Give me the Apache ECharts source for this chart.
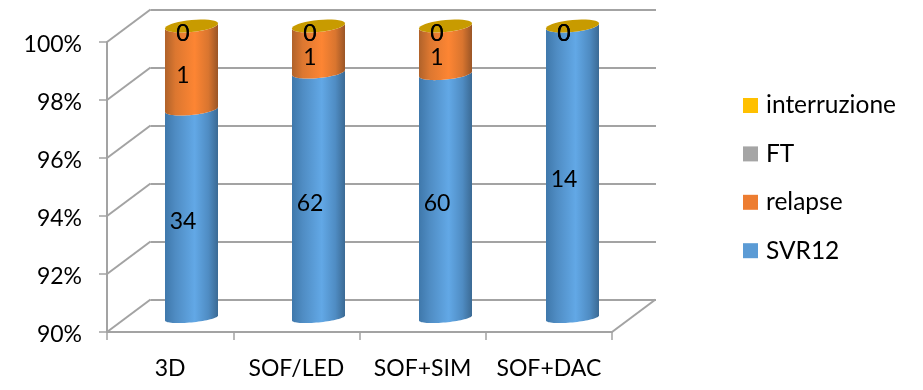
<!DOCTYPE html>
<html>
<head>
<meta charset="utf-8">
<style>
html, body { margin: 0; padding: 0; background: #fff; }
#chart { width: 923px; height: 390px; }
</style>
<script src="https://cdn.jsdelivr.net/npm/echarts@6/dist/echarts.min.js"></script>
</head>
<body>
<div id="chart"></div>
<script>
// Patient counts per regimen
const categories = ['3D', 'SOF/LED', 'SOF+SIM', 'SOF+DAC'];
const svr12 = [34, 62, 60, 14];
const relapse = [1, 1, 1, 0];
const ft = [0, 0, 0, 0];
const interruzione = [0, 0, 0, 0];

const yMin = 90;
const yMax = 100;
const yStep = 2;

const FONT = 'Lato';
const WALL = '#a3a3a3';

// Depth of the box: how far the back wall sits from the front plane
const DEPTH_X = 43.5;
const DEPTH_Y = -32.5;

// Shades run across a cylinder: left edge, left shoulder, highlight, right shoulder, right edge
const stackSeries = [
  { name: 'SVR12', values: svr12, color: '#5B9BD5', shade: ['#3f78ab', '#4f8cc3', '#62a8e6', '#4f8cc3', '#3b6a94'] },
  { name: 'relapse', values: relapse, color: '#ED7D31', shade: ['#b0622a', '#dc7730', '#fd8533', '#d9752f', '#9a5526'] },
  { name: 'FT', values: ft, color: '#A5A5A5', shade: ['#777', '#919191', '#aaa', '#919191', '#666'] },
  { name: 'interruzione', values: interruzione, color: '#FFC000', shade: ['#b88c00', '#dca600', '#ffc000', '#dca600', '#a07a00'], cap: '#c89b00' }
];
const shadeStops = [0, 0.2, 0.56, 0.82, 1];

// Each category is stacked to 100 %
const totals = categories.map((_, i) => stackSeries.reduce((s, d) => s + d.values[i], 0));

function segmentData(seriesIndex) {
  return categories.map((_, i) => {
    let before = 0;
    for (let k = 0; k < seriesIndex; k++) before += stackSeries[k].values[i];
    const val = stackSeries[seriesIndex].values[i];
    return [i, before / totals[i] * 100, (before + val) / totals[i] * 100, val];
  });
}

// Half-ellipse of a cylinder slice; the slight shear gives the tilted rim of the 3D view
const RADIUS = 26.5;
const SHEAR = 2.5;
function flatness(pct) {
  return 4.4 + 1.6 * (pct - yMin) / (yMax - yMin);
}
function rim(cx, cy, b, from, to) {
  const pts = [];
  const n = 36;
  for (let j = 0; j <= n; j++) {
    const t = from + (to - from) * j / n;
    pts.push([cx + RADIUS * Math.cos(t), cy - SHEAR * Math.cos(t) + b * Math.sin(t)]);
  }
  return pts;
}

function cylinderRenderer(def) {
  return function (params, api) {
    const cat = api.value(0);
    const low = Math.max(api.value(1), yMin);
    const high = api.value(2);
    const count = api.value(3);
    const pLow = api.coord([cat, low]);
    const pHigh = api.coord([cat, high]);
    const children = [];
    if (high > low) {
      // front face: bottom arc left to right, then top arc back right to left
      const bottom = rim(pLow[0], pLow[1], flatness(low), Math.PI, 0);
      const top = rim(pHigh[0], pHigh[1], flatness(high), 0, Math.PI);
      children.push({
        type: 'polygon',
        shape: { points: bottom.concat(top) },
        style: {
          fill: new echarts.graphic.LinearGradient(0, 0, 1, 0,
            shadeStops.map((offset, k) => ({ offset, color: def.shade[k] })))
        }
      });
    }
    if (def.cap) {
      children.push({
        type: 'polygon',
        shape: { points: rim(pHigh[0], pHigh[1], flatness(high), 0, Math.PI * 2) },
        style: { fill: def.cap }
      });
    }
    children.push({
      type: 'text',
      z2: 100,
      style: {
        x: pLow[0] - 8.5,
        y: (pLow[1] + pHigh[1]) / 2 + 8,
        text: String(count),
        font: '23px ' + FONT,
        fill: '#000',
        align: 'center',
        verticalAlign: 'middle'
      }
    });
    return { type: 'group', children };
  };
}

// Side wall and floor edges running from the front plane to the back wall
function wallRenderer(params, api) {
  const tick = api.value(0);
  const left = api.coord([0, tick]);
  const halfBand = api.size([1, 0])[0] / 2;
  const style = { stroke: WALL, lineWidth: 2, fill: null };
  const children = [{
    type: 'line',
    shape: { x1: left[0] - halfBand, y1: left[1], x2: left[0] - halfBand + DEPTH_X, y2: left[1] + DEPTH_Y },
    style
  }];
  if (tick === yMin) {
    const right = api.coord([categories.length - 1, tick]);
    children.push({
      type: 'line',
      shape: { x1: right[0] + halfBand, y1: right[1], x2: right[0] + halfBand + DEPTH_X, y2: right[1] + DEPTH_Y },
      style
    });
  }
  return { type: 'group', children };
}

const yTicks = [];
for (let v = yMin; v <= yMax; v += yStep) yTicks.push(v);

const hiddenCat = { type: 'category', data: categories, show: false };
const hiddenVal = { type: 'value', min: yMin, max: yMax, interval: yStep, show: false };

const chart = echarts.init(document.getElementById('chart'), null, { renderer: 'canvas' });
chart.setOption({
  animation: false,
  backgroundColor: '#fff',
  textStyle: { fontFamily: FONT },
  grid: [
    // front plane, carries the visible axes
    { left: 107, top: 42, width: 505, height: 290 },
    // back wall, carries the gridlines
    { left: 150.5, top: 9.5, width: 505.5, height: 290.5 },
    // plane through the cylinder axes
    { left: 128, top: 26, width: 508, height: 292 }
  ],
  xAxis: [
    {
      type: 'category', gridIndex: 0, data: categories,
      axisLine: { lineStyle: { color: WALL, width: 2 } },
      axisTick: { show: true, length: 8, interval: 0, alignWithLabel: false, lineStyle: { color: WALL, width: 1.5 } },
      axisLabel: { color: '#000', fontSize: 23, fontFamily: FONT, margin: 25, interval: 0 }
    },
    Object.assign({ gridIndex: 1 }, hiddenCat),
    Object.assign({ gridIndex: 2 }, hiddenCat)
  ],
  yAxis: [
    {
      type: 'value', gridIndex: 0, min: yMin, max: yMax, interval: yStep,
      axisLine: { show: true, lineStyle: { color: WALL, width: 2 } },
      axisTick: { show: true, length: 8, lineStyle: { color: WALL, width: 1.5 } },
      splitLine: { show: false },
      axisLabel: {
        margin: 25,
        formatter: '{t|{value}%}',
        rich: { t: { color: '#000', fontSize: 23, fontFamily: FONT, padding: [5, 0, 0, 0] } }
      }
    },
    {
      type: 'value', gridIndex: 1, min: yMin, max: yMax, interval: yStep,
      axisLine: { show: false }, axisTick: { show: false }, axisLabel: { show: false },
      splitLine: { show: true, lineStyle: { color: WALL, width: 2 } }
    },
    Object.assign({ gridIndex: 2 }, hiddenVal)
  ],
  legend: {
    orient: 'vertical',
    left: 738,
    top: 88,
    itemWidth: 15,
    itemHeight: 15,
    itemGap: 23.4,
    icon: 'rect',
    data: stackSeries.map(d => d.name).reverse(),
    textStyle: { color: '#000', fontSize: 24.5, fontFamily: FONT, padding: [0, 0, 0, 3] }
  },
  series: [
    {
      type: 'custom',
      xAxisIndex: 0,
      yAxisIndex: 0,
      silent: true,
      clip: false,
      renderItem: wallRenderer,
      data: yTicks.map(v => [v]),
      encode: { y: 0 },
      z: 1
    }
  ].concat(stackSeries.map((def, i) => ({
    type: 'custom',
    name: def.name,
    xAxisIndex: 2,
    yAxisIndex: 2,
    clip: false,
    itemStyle: { color: def.color },
    renderItem: cylinderRenderer(def),
    data: segmentData(i),
    encode: { x: 0, y: [1, 2] },
    z: 3
  })))
});
</script>
</body>
</html>
